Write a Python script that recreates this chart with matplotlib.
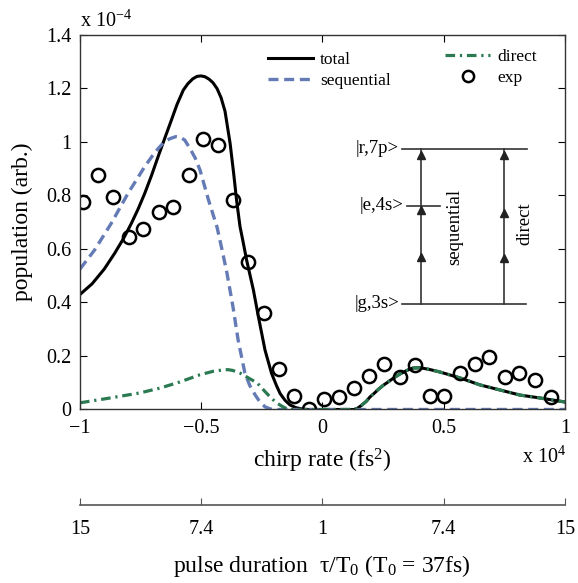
import matplotlib
matplotlib.use('Agg')
from matplotlib import pyplot as plt

plt.rcParams['font.family'] = ['Liberation Serif', 'DejaVu Serif']
plt.rcParams['mathtext.fontset'] = 'custom'
plt.rcParams['mathtext.rm'] = 'Liberation Serif'
plt.rcParams['mathtext.it'] = 'Liberation Serif:italic'
plt.rcParams['mathtext.default'] = 'regular'

#========== Data (chirp in 1e4 fs^2, population in 1e-4) ==========#

total_x = [-1, -0.95, -0.9, -0.857, -0.82, -0.788, -0.76, -0.733, -0.705, -0.678,
           -0.65, -0.623, -0.6, -0.574, -0.555, -0.535, -0.518, -0.501, -0.485, -0.468,
           -0.452, -0.435, -0.418, -0.402, -0.381, -0.366, -0.354, -0.34, -0.329, -0.313,
           -0.285, -0.265, -0.237, -0.21, -0.19, -0.175, -0.155, -0.134, -0.11, -0.085,
           -0.06, 0.13, 0.145, 0.16, 0.18, 0.196, 0.215, 0.23, 0.25, 0.266,
           0.3, 0.32, 0.35, 0.373, 0.402, 0.44, 0.485, 0.567, 0.649, 0.732,
           0.814, 0.897, 1.0]
total_y = [0.43, 0.47, 0.525, 0.584, 0.64, 0.696, 0.75, 0.808, 0.875, 0.945,
           1.015, 1.082, 1.14, 1.194, 1.218, 1.236, 1.245, 1.247, 1.244, 1.235,
           1.222, 1.2, 1.165, 1.115, 0.995, 0.88, 0.78, 0.683, 0.634, 0.559,
           0.447, 0.35, 0.222, 0.135, 0.09, 0.06, 0.035, 0.017, 0.007, 0.002,
           0, 0, 0.005, 0.015, 0.03, 0.047, 0.062, 0.075, 0.09, 0.1,
           0.122, 0.133, 0.147, 0.155, 0.156, 0.15, 0.14, 0.118, 0.092, 0.073,
           0.054, 0.043, 0.028]

seq_x = [-1, -0.94, -0.871, -0.802, -0.733, -0.7, -0.678, -0.655, -0.63, -0.605,
         -0.585, -0.568, -0.546, -0.525, -0.505, -0.47, -0.435, -0.414, -0.394, -0.369,
         -0.348, -0.32, -0.3, -0.278, -0.258, -0.237, -0.215, -0.2, 1.0]
seq_y = [0.525, 0.596, 0.696, 0.808, 0.908, 0.95, 0.975, 0.998, 1.012, 1.02,
         1.017, 1.007, 0.975, 0.94, 0.895, 0.783, 0.682, 0.596, 0.51, 0.383,
         0.26, 0.136, 0.09, 0.055, 0.028, 0.01, 0.002, 0, 0]

dir_x = [-1, -0.876, -0.753, -0.67, -0.588, -0.505, -0.45, -0.41, -0.39, -0.37,
         -0.34, -0.3, -0.27, -0.24, -0.216, -0.19, -0.163, -0.14, 0.13, 0.145,
         0.16, 0.18, 0.196, 0.215, 0.23, 0.25, 0.266, 0.3, 0.32, 0.35,
         0.373, 0.402, 0.44, 0.485, 0.567, 0.649, 0.732, 0.814, 0.897, 1.0]
dir_y = [0.025, 0.043, 0.062, 0.08, 0.103, 0.13, 0.143, 0.148, 0.149, 0.146,
         0.136, 0.115, 0.1, 0.07, 0.047, 0.025, 0.01, 0, 0, 0.005,
         0.015, 0.03, 0.047, 0.062, 0.075, 0.09, 0.1, 0.122, 0.133, 0.147,
         0.155, 0.156, 0.15, 0.14, 0.118, 0.092, 0.073, 0.054, 0.043, 0.028]

exp_x = [-0.988, -0.926, -0.864, -0.798, -0.740, -0.676, -0.615, -0.551, -0.493, -0.430,
         -0.369, -0.307, -0.243, -0.181, -0.118, -0.056, 0.006, 0.068, 0.130, 0.192,
         0.254, 0.320, 0.381, 0.443, 0.501, 0.567, 0.629, 0.687, 0.753, 0.811,
         0.876, 0.942]
exp_y = [0.777, 0.877, 0.796, 0.646, 0.674, 0.74, 0.758, 0.877, 1.013, 0.988,
         0.783, 0.552, 0.361, 0.151, 0.05, 0.002, 0.039, 0.047, 0.08, 0.125,
         0.17, 0.12, 0.166, 0.05, 0.05, 0.136, 0.17, 0.197, 0.12, 0.136,
         0.11, 0.047]

xticks = [-1, -0.5, 0, 0.5, 1]
xtick_labels = ['\u22121', '\u22120.5', '0', '0.5', '1']
yticks = [0, 0.2, 0.4, 0.6, 0.8, 1.0, 1.2, 1.4]
ytick_labels = ['0', '0.2', '0.4', '0.6', '0.8', '1', '1.2', '1.4']
pulse_labels = ['15', '7.4', '1', '7.4', '15']

# energy level scheme (axes fraction)
levels = [('|r,7p>', 0.6956, 0.664, 0.9216),
          ('|e,4s>', 0.5434, 0.674, 0.742),
          ('|g,3s>', 0.2817, 0.664, 0.9196)]
path_x = [0.703, 0.874]
path_heads = [[0.6796, 0.5327, 0.4072], [0.6796, 0.5247, 0.4045]]
path_names = [('sequential', 0.773, 0.487), ('direct', 0.9175, 0.495)]

blue = '#647bb5'
green = '#2b7a52'

#========== Graph drawing ==========#

fig = plt.figure(figsize=(5.78, 5.83), dpi=100)
ax = fig.add_axes([0.1384, 0.2976, 0.8391, 0.6424])

l_tot, = ax.plot(total_x, total_y, color='k', lw=2.2, label='total')
l_seq, = ax.plot(seq_x, seq_y, color=blue, lw=2.4, dashes=(3, 1.7), label='sequential')
l_dir, = ax.plot(dir_x, dir_y, color=green, lw=2.3, dashes=(3, 1.5, 0.7, 1.5), label='direct')
l_exp, = ax.plot(exp_x, exp_y, 'o', mfc='none', mec='k', ms=9.5, mew=1.8, label='exp')

ax.set_xlim(-1, 1)
ax.set_ylim(0, 1.4)
ax.set_xticks(xticks)
ax.set_xticklabels(xtick_labels)
ax.set_yticks(yticks)
ax.set_yticklabels(ytick_labels)
ax.tick_params(direction='in', top=True, right=True, length=5, width=0.8,
               labelsize=14.5, colors='k')
ax.tick_params(axis='x', pad=7)
ax.tick_params(axis='y', pad=6)
for s in ax.spines.values():
    s.set_linewidth(1.0)
    s.set_color('#333333')

leg1 = ax.legend(handles=[l_tot, l_seq], loc='upper left', bbox_to_anchor=(0.388, 0.955),
                 frameon=False, fontsize=12.5, handlelength=2.6, handletextpad=0.4,
                 labelspacing=0.3, borderpad=0, borderaxespad=0)
ax.add_artist(leg1)
ax.legend(handles=[l_dir, l_exp], loc='upper left', bbox_to_anchor=(0.7526, 0.963),
          frameon=False, fontsize=12.5, handlelength=2.6, handletextpad=0.4,
          labelspacing=0.3, borderpad=0, borderaxespad=0, markerscale=0.85)

# level diagram
for name, y, x0, x1 in levels:
    ax.plot([x0, x1], [y, y], color='#333333', lw=1.2, transform=ax.transAxes)
    ax.text(x0 - 0.006, y, name, transform=ax.transAxes, ha='right', va='center', fontsize=13.5)
for px, heads in zip(path_x, path_heads):
    ax.plot([px, px], [levels[2][1], levels[0][1]], color='#333333', lw=1.2, transform=ax.transAxes)
    ax.plot([px] * len(heads), heads, '^', color='#222222', ms=5.5, transform=ax.transAxes)
for name, x, y in path_names:
    ax.text(x, y, name, transform=ax.transAxes, rotation=90, ha='center', va='center', fontsize=13.5)

# labels
fig.text(22 / 578, 1 - 222 / 583, 'population (arb.)', rotation=90, ha='center', va='center', fontsize=17)
fig.text(80 / 578, 1 - 21 / 583, 'x 10$^{\u22124}$', ha='left', va='center', fontsize=14.5)
fig.text(322 / 578, 1 - 461 / 583, 'chirp rate (fs$^{2}$)', ha='center', va='center', fontsize=17)
fig.text(566 / 578, 1 - 457 / 583, 'x 10$^{4}$', ha='right', va='center', fontsize=14.5)

# pulse duration axis
ax2 = fig.add_axes([0.1384, 78 / 583, 0.8391, 0.0001])
ax2.set_facecolor('none')
for k in ['top', 'left', 'right']:
    ax2.spines[k].set_visible(False)
ax2.spines['bottom'].set_color('#555555')
ax2.spines['bottom'].set_linewidth(1.2)
ax2.set_xlim(-1, 1)
ax2.set_xticks(xticks)
ax2.set_xticklabels(pulse_labels)
ax2.set_yticks([])
ax2.tick_params(axis='x', direction='in', length=5, width=0.8, color='#555555', labelsize=14.5, pad=11)
fig.text(322 / 578, 1 - 566 / 583, 'pulse duration  \u03c4/T$_{0}$ (T$_{0}$ = 37fs)',
         ha='center', va='center', fontsize=17)

plt.savefig('out.png', dpi=100)
